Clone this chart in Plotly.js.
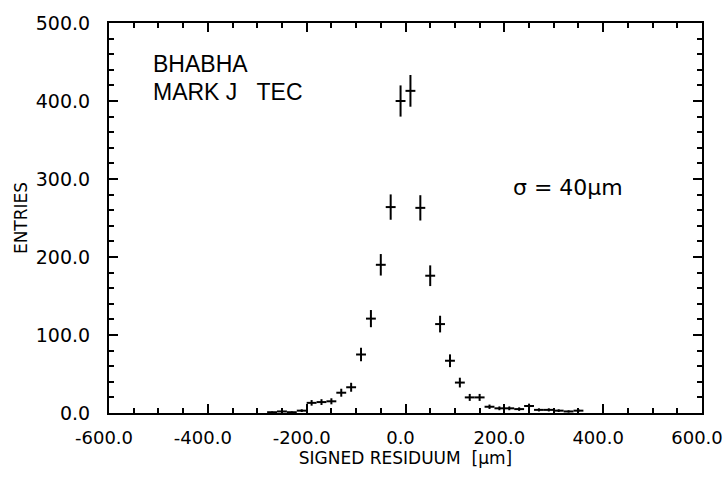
<!DOCTYPE html>
<html>
<head>
<meta charset="utf-8">
<script src="https://cdn.plot.ly/plotly-3.0.1.min.js"></script>
<style>
html,body{margin:0;padding:0;background:#fff;}
#chart{width:724px;height:480px;}
</style>
</head>
<body>
<div id="chart"></div>
<script>
// Bin centers (signed residuum, µm) and entries
var binCenters = [-270, -250, -230, -210, -190, -170, -150, -130, -110, -90, -70, -50, -30, -10,
                  10, 30, 50, 70, 90, 110, 130, 150, 170, 190, 210, 230, 250, 270, 290, 310, 330, 350];
var entries    = [1, 2, 1, 3, 13, 14, 15, 26, 33, 75, 121, 190, 264, 400,
                  413, 263, 176, 114, 67, 39, 20, 20, 8, 6, 6, 5, 9, 4, 4, 3, 2, 3];
var xTickVals  = [-600, -400, -200, 0, 200, 400, 600];
var xTickText  = ["-600.0", "-400.0", "-200.0", "0.0", "200.0", "400.0", "600.0"];
var yTickVals  = [0, 100, 200, 300, 400, 500];
var yTickText  = ["0.0", "100.0", "200.0", "300.0", "400.0", "500.0"];
var labelLine1 = "BHABHA";
var labelLine2 = "MARK J\u00a0\u00a0\u00a0TEC";
var sigmaLabel = "\u03c3 = 40\u03bcm";

var FONT = "DejaVu Sans, Liberation Sans, Arial, sans-serif";

var trace = {
  x: binCenters,
  y: entries,
  type: "scatter",
  mode: "markers",
  marker: {size: 1, color: "black"},
  error_y: {type: "sqrt", visible: true, color: "black", thickness: 2, width: 0},
  error_x: {type: "constant", value: 10, visible: true, color: "black", thickness: 2, width: 0},
  hoverinfo: "skip",
  showlegend: false
};

var axisCommon = {
  showgrid: false,
  zeroline: false,
  showline: true,
  linecolor: "black",
  linewidth: 2,
  mirror: "ticks",
  ticks: "inside",
  ticklen: 9,
  tickwidth: 2,
  tickcolor: "black",
  ticklabeloverflow: "allow",
  tickfont: {family: FONT, size: 19, color: "black"}
};

var layout = {
  width: 724,
  height: 480,
  paper_bgcolor: "white",
  plot_bgcolor: "white",
  margin: {l: 109, r: 22, t: 23, b: 67},
  xaxis: Object.assign({}, axisCommon, {
    range: [-600, 600],
    tickmode: "array",
    tickvals: xTickVals,
    ticktext: xTickText,
    ticklabelstandoff: 7,
    ticklabelshift: -5,
    tickfont: {family: FONT, size: 18, color: "black"},
    minor: {dtick: 50, ticks: "inside", ticklen: 5, tickwidth: 2, tickcolor: "black", showgrid: false},
    title: {text: "SIGNED RESIDUUM  [\u03bcm]", font: {family: FONT, size: 17, color: "black"}, standoff: 4}
  }),
  yaxis: Object.assign({}, axisCommon, {
    range: [0, 500],
    tickmode: "array",
    tickvals: yTickVals,
    ticktext: yTickText,
    ticklabelstandoff: 13,
    minor: {dtick: 20, ticks: "inside", ticklen: 5, tickwidth: 2, tickcolor: "black", showgrid: false},
    title: {text: "ENTRIES", font: {family: FONT, size: 17, color: "black"}, standoff: 4}
  }),
  annotations: [
    {xref: "paper", yref: "paper", x: 0.07, y: 0.895, xanchor: "left", yanchor: "middle",
     text: labelLine1, showarrow: false, font: {family: "Liberation Sans, Arial, sans-serif", size: 23, color: "black"}},
    {xref: "paper", yref: "paper", x: 0.07, y: 0.822, xanchor: "left", yanchor: "middle",
     text: labelLine2, showarrow: false, font: {family: "Liberation Sans, Arial, sans-serif", size: 23, color: "black"}},
    {xref: "paper", yref: "paper", x: 0.678, y: 0.578, xanchor: "left", yanchor: "middle",
     text: sigmaLabel, showarrow: false, font: {family: FONT, size: 22, color: "black"}}
  ]
};

Plotly.newPlot("chart", [trace], layout, {displayModeBar: false, staticPlot: true});
</script>
</body>
</html>
